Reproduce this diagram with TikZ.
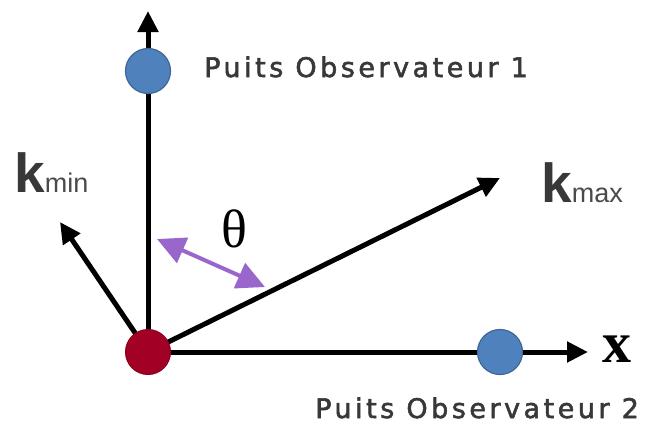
\documentclass[tikz,border=0pt]{standalone}
\usepackage{fontspec}
\usetikzlibrary{arrows.meta}
\newfontfamily\labfont{DejaVu Sans}[LetterSpace=13,FakeBold=2]
\newfontfamily\kfont{Liberation Sans}
\newfontfamily\serfont{Liberation Serif}
\definecolor{wellblue}{HTML}{4F81BD}
\definecolor{welledge}{HTML}{3F6795}
\definecolor{origred}{HTML}{A20025}
\definecolor{thetapurple}{HTML}{9966CC}
\definecolor{txtgray}{HTML}{383838}
\definecolor{subgray}{HTML}{4A4A4A}
\begin{document}
\begin{tikzpicture}[x=1pt,y=-1pt,
  axis/.style={line width=5pt,-{Triangle[length=21pt,width=20pt]}},
  well/.style={circle,fill=wellblue,draw=welledge,line width=1.2pt,minimum size=45pt,inner sep=0pt},
  origin/.style={circle,fill=origred,draw=origred!85!black,line width=1pt,minimum size=45pt,inner sep=0pt},
  welllabel/.style={anchor=base west,inner sep=0pt,text=txtgray,font=\fontsize{27}{30}\selectfont\labfont},
  klabel/.style={anchor=base west,inner sep=0pt,text=txtgray},
  anglearrow/.style={draw=thetapurple,line width=4pt,{Triangle[length=28pt,width=27pt]}-{Triangle[length=28pt,width=27pt]}}
]
\useasboundingbox (0,0) rectangle (658,423);
% key points
\coordinate (o) at (148,352);
\coordinate (ytip) at (148,11);
\coordinate (xtip) at (588,352);
\coordinate (kmaxtip) at (500,178);
\coordinate (kmintip) at (60,222);
\coordinate (p1) at (148,71);
\coordinate (p2) at (500,352);
\coordinate (th1) at (157,239);
\coordinate (th2) at (265,287);
% connectors
\draw[axis] (o) -- (ytip);
\draw[axis] (o) -- (xtip);
\draw[axis] (o) -- (kmaxtip);
\draw[axis] (o) -- (kmintip);
\draw[anglearrow] (th1) -- (th2);
% wells
\node[well] (w1) at (p1) {};
\node[well] (w2) at (p2) {};
\node[origin] (orig) at (o) {};
% labels
\node[welllabel] (l1) at (204,77) {Puits Observateur 1};
\node[welllabel] (l2) at (315,418) {Puits Observateur 2};
\node[klabel] (kmin) at (14,192) {\fontsize{55}{60}\selectfont\kfont\bfseries k{\fontsize{27}{30}\selectfont\mdseries\color{subgray}min}};
\node[klabel] (kmax) at (541,202) {\fontsize{55}{60}\selectfont\kfont\bfseries k{\fontsize{27}{30}\selectfont\mdseries\color{subgray}max}};
\node[anchor=base,inner sep=0pt,font=\fontsize{54}{58}\selectfont\serfont] (theta) at (234,247) {θ};
\node[anchor=base west,inner sep=0pt,font=\fontsize{58}{60}\selectfont\serfont\bfseries] (xl) at (602,362) {x};
\end{tikzpicture}
\end{document}
